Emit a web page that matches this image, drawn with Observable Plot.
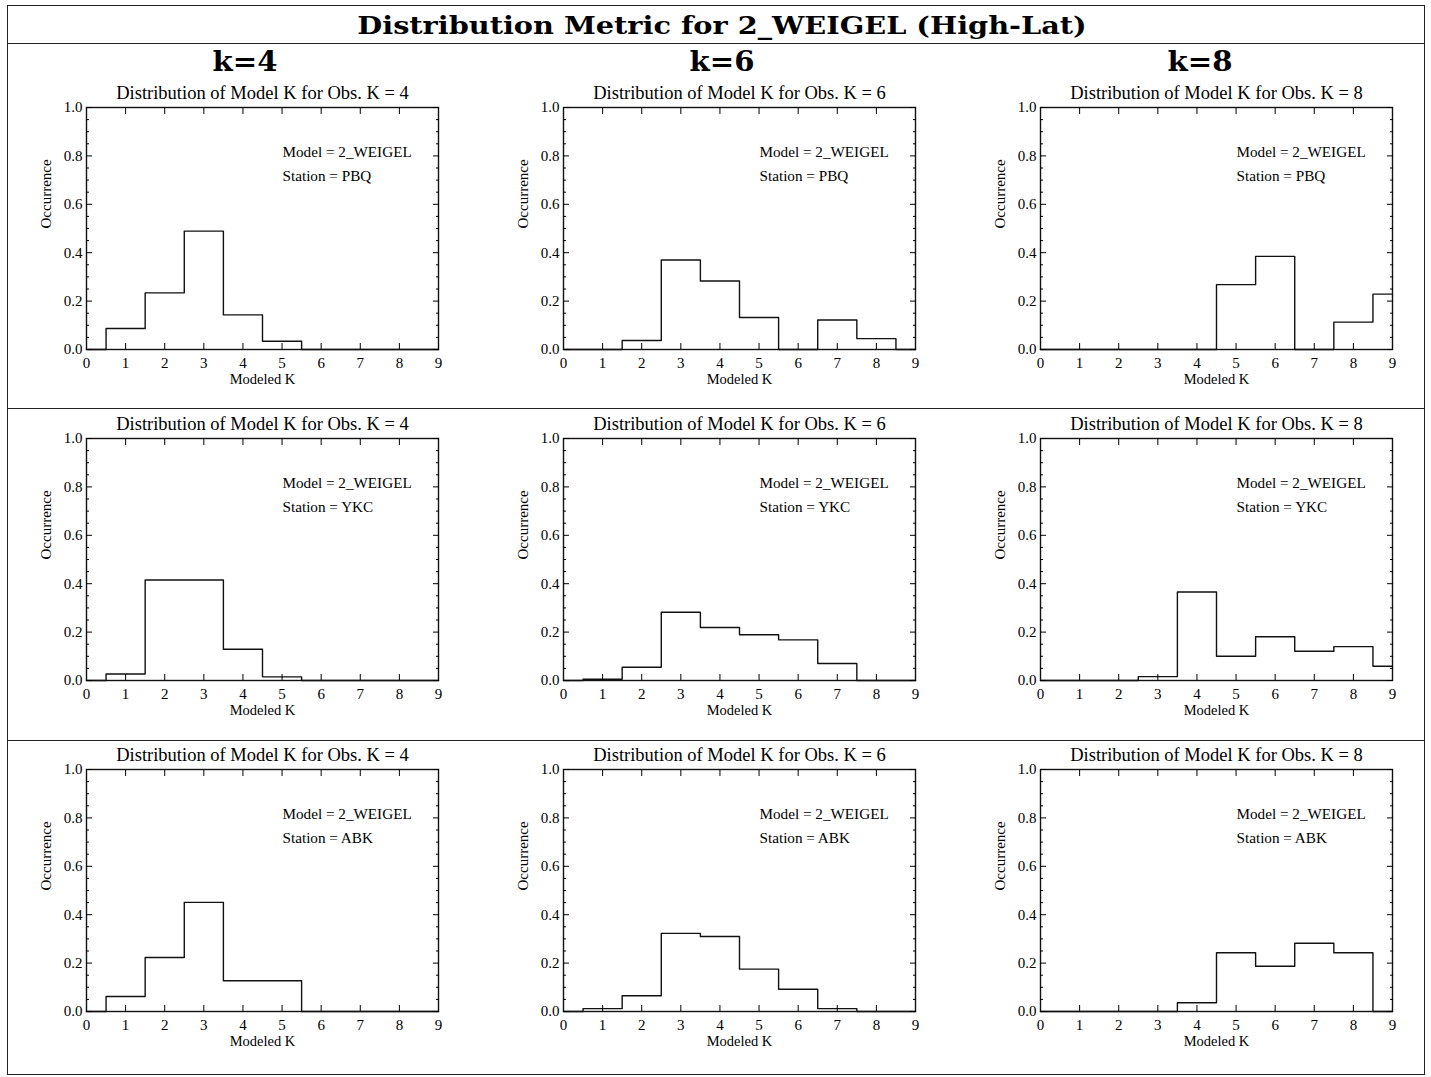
<!DOCTYPE html>
<html><head><meta charset="utf-8">
<script src="https://cdn.jsdelivr.net/npm/d3@7"></script>
<script src="https://cdn.jsdelivr.net/npm/@observablehq/plot@0.6"></script>
<style>
body{margin:0;background:#fff;}
#page{position:relative;width:1431px;height:1077px;background:#fff;overflow:hidden}
.box{position:absolute;left:7px;top:5px;width:1418px;height:1070px;border:1.5px solid #222;box-sizing:border-box}
.hline{position:absolute;left:7px;width:1418px;height:0;border-top:1.5px solid #222}
.head{position:absolute;font-family:"DejaVu Serif",serif;font-weight:bold;white-space:nowrap;color:#000;line-height:1}
.panel{position:absolute}
</style></head><body><div id="page"></div>
<script>
// ---------------- data ----------------
const chartTitle = "Distribution Metric for 2_WEIGEL (High-Lat)";
const modelName = "2_WEIGEL";
const stations = ["PBQ", "YKC", "ABK"];
const obsK = [4, 6, 8];
const modeledK = [0, 1, 2, 3, 4, 5, 6, 7, 8, 9];

const pbq_k4 = [0, 0.087, 0.234, 0.489, 0.143, 0.034, 0, 0, 0, 0];
const pbq_k6 = [0, 0, 0.037, 0.370, 0.283, 0.132, 0, 0.122, 0.045, 0];
const pbq_k8 = [0, 0, 0, 0, 0, 0.268, 0.385, 0, 0.113, 0.229];
const ykc_k4 = [0, 0.027, 0.415, 0.415, 0.129, 0.015, 0, 0, 0, 0];
const ykc_k6 = [0, 0.005, 0.055, 0.282, 0.219, 0.189, 0.168, 0.070, 0, 0];
const ykc_k8 = [0, 0, 0, 0.016, 0.366, 0.100, 0.181, 0.121, 0.140, 0.059];
const abk_k4 = [0, 0.062, 0.223, 0.451, 0.127, 0.127, 0, 0, 0, 0];
const abk_k6 = [0, 0.012, 0.065, 0.323, 0.310, 0.175, 0.092, 0.012, 0, 0];
const abk_k8 = [0, 0, 0, 0, 0.036, 0.243, 0.187, 0.282, 0.243, 0];

const xTickLabels = [0, 1, 2, 3, 4, 5, 6, 7, 8, 9];
const xInnerTicks = [1, 2, 3, 4, 5, 6, 7, 8];
const yTickLabels = [0, 0.2, 0.4, 0.6, 0.8, 1.0];
const yMinorTicks = [0.05, 0.1, 0.15, 0.25, 0.3, 0.35, 0.45, 0.5, 0.55, 0.65, 0.7, 0.75, 0.85, 0.9, 0.95];

const series = {
  PBQ: {4: pbq_k4, 6: pbq_k6, 8: pbq_k8},
  YKC: {4: ykc_k4, 6: ykc_k6, 8: ykc_k8},
  ABK: {4: abk_k4, 6: abk_k6, 8: abk_k8}
};

// ---------------- layout ----------------
const colFrameLeft = [86, 563, 1040];
const rowFrameTop = [107, 438, 769];
const headCenters = [245, 722, 1200];
const frameW = 352, frameH = 242;
const mL = 60, mR = 14, mT = 40, mB = 46;

const page = document.getElementById("page");
function addDiv(cls, css, text) {
  const d = document.createElement("div");
  d.className = cls;
  Object.assign(d.style, css);
  if (text != null) d.textContent = text;
  page.appendChild(d);
  return d;
}
addDiv("box", {});
addDiv("hline", {top: "43px"});
addDiv("hline", {top: "408px"});
addDiv("hline", {top: "740px"});
addDiv("head", {left: "722px", top: "25px", fontSize: "25px", transform: "translate(-50%,-50%) scaleX(1.15)"}, chartTitle);
obsK.forEach((k, j) => addDiv("head", {left: headCenters[j] + "px", top: "61px", fontSize: "27px", transform: "translate(-50%,-50%) scaleX(1.08)"}, "k=" + k));

function panel(values, station, k) {
  const data = modeledK.map((kk, i) => ({k: kk, v: values[i]}));
  return Plot.plot({
    width: mL + frameW + mR,
    height: mT + frameH + mB,
    marginLeft: mL, marginRight: mR, marginTop: mT, marginBottom: mB,
    x: {domain: [0, 9], label: null},
    y: {domain: [0, 1], label: null},
    style: {fontFamily: "Liberation Serif, serif", fontSize: "15px", color: "#000", background: "transparent", overflow: "visible"},
    marks: [
      Plot.line(data, {x: "k", y: "v", curve: "step", stroke: "#111", strokeWidth: 1.4}),
      Plot.frame({stroke: "#111", strokeWidth: 1.4}),
      Plot.axisY(yTickLabels, {anchor: "left", tickSize: -6, fill: "none", label: null}),
      Plot.axisY(yTickLabels, {anchor: "right", tickSize: -6, fill: "none", label: null}),
      Plot.axisY(yMinorTicks, {anchor: "left", tickSize: -3, fill: "none", label: null}),
      Plot.axisY(yMinorTicks, {anchor: "right", tickSize: -3, fill: "none", label: null}),
      Plot.axisX(xInnerTicks, {anchor: "bottom", tickSize: -6, fill: "none", label: null}),
      Plot.axisX(xInnerTicks, {anchor: "top", tickSize: -6, fill: "none", label: null}),
      Plot.axisY(yTickLabels, {anchor: "left", tickSize: 0, tickPadding: 4, tickFormat: ".1f", label: null}),
      Plot.axisX(xTickLabels, {anchor: "bottom", tickSize: 0, tickPadding: 8, tickFormat: "d", label: null}),
      Plot.text([`Distribution of Model K for Obs. K = ${k}`], {frameAnchor: "top", dy: -14, lineAnchor: "middle", fontSize: 18.5}),
      Plot.text(["Occurrence"], {frameAnchor: "left", dx: -40, rotate: -90, lineAnchor: "middle", fontSize: 15}),
      Plot.text(["Modeled K"], {frameAnchor: "bottom", dy: 30, lineAnchor: "middle", fontSize: 14.5}),
      Plot.text([`Model = ${modelName}`], {frameAnchor: "top-left", dx: 196, dy: 45, textAnchor: "start", lineAnchor: "middle", fontSize: 15.2}),
      Plot.text([`Station = ${station}`], {frameAnchor: "top-left", dx: 196, dy: 69, textAnchor: "start", lineAnchor: "middle", fontSize: 15.2})
    ]
  });
}

stations.forEach((st, i) => {
  obsK.forEach((k, j) => {
    const el = panel(series[st][k], st, k);
    const wrap = addDiv("panel", {left: (colFrameLeft[j] - mL) + "px", top: (rowFrameTop[i] - mT) + "px"});
    wrap.appendChild(el);
  });
});
</script>
</body></html>
